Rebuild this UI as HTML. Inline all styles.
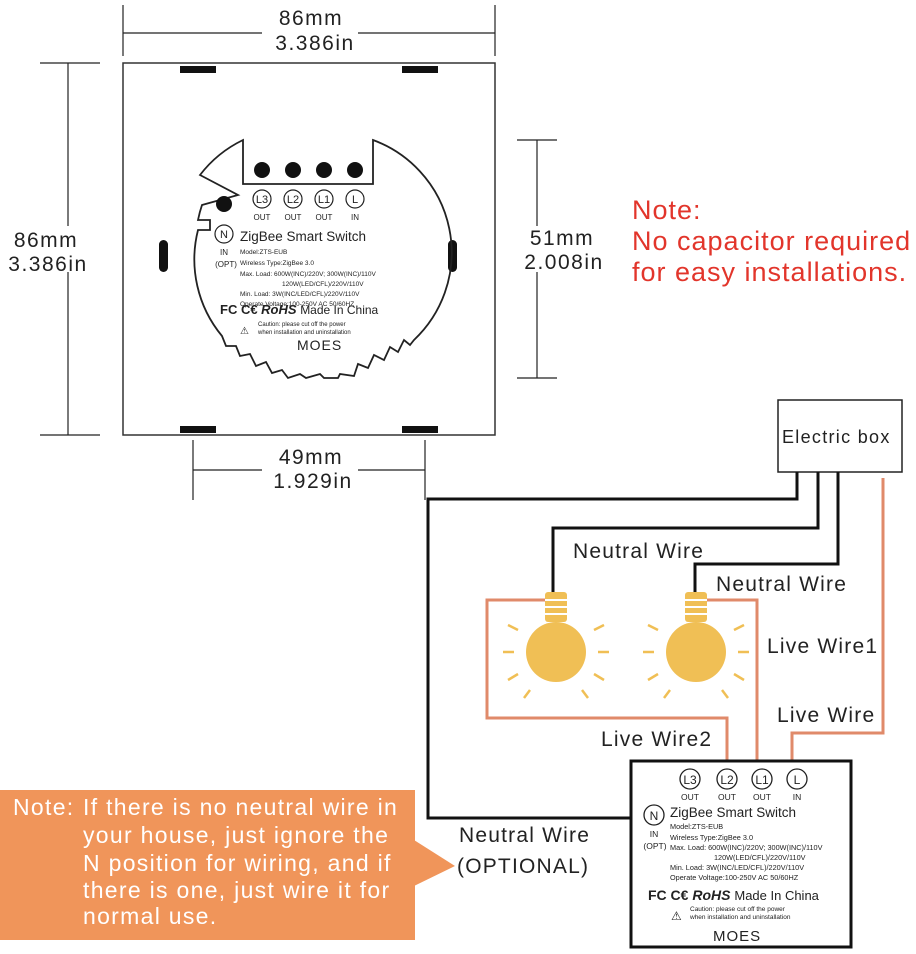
<!DOCTYPE html>
<html><head><meta charset="utf-8"><style>
body{margin:0;background:#fff;width:916px;height:954px;overflow:hidden}
svg{display:block}
text{font-family:"Liberation Sans",sans-serif}
</style></head><body>
<svg width="916" height="954" viewBox="0 0 916 954" xmlns="http://www.w3.org/2000/svg">
<rect x="123" y="63" width="372" height="372" fill="none" stroke="#333" stroke-width="1.5"/>
<rect x="180" y="66" width="36" height="7" fill="#111"/><rect x="402" y="66" width="36" height="7" fill="#111"/>
<rect x="180" y="426" width="36" height="7" fill="#111"/><rect x="402" y="426" width="36" height="7" fill="#111"/>
<rect x="159" y="240" width="9" height="32" rx="4.5" fill="#111"/><rect x="448" y="240" width="9" height="32" rx="4.5" fill="#111"/>
<g stroke="#222" stroke-width="1.2" fill="none">
<line x1="123" y1="5" x2="123" y2="56"/><line x1="495" y1="5" x2="495" y2="56"/><line x1="123" y1="33" x2="495" y2="33"/>
<line x1="40" y1="63" x2="100" y2="63"/><line x1="40" y1="435" x2="100" y2="435"/><line x1="68" y1="63" x2="68" y2="435"/>
<line x1="517" y1="140" x2="557" y2="140"/><line x1="517" y1="378" x2="557" y2="378"/><line x1="537" y1="140" x2="537" y2="378"/>
<line x1="193" y1="440" x2="193" y2="500"/><line x1="425" y1="440" x2="425" y2="500"/><line x1="193" y1="470" x2="425" y2="470"/>
</g>
<g font-size="21" fill="#222" text-anchor="middle" letter-spacing="1.5">
<rect x="262" y="6" width="96" height="48" fill="#fff"/>
<text x="311" y="25">86mm</text><text x="315" y="50">3.386in</text>
<rect x="1" y="226" width="92" height="46" fill="#fff"/>
<text x="46" y="247">86mm</text><text x="48" y="271">3.386in</text>
<rect x="516" y="226" width="90" height="46" fill="#fff"/>
<text x="562" y="245">51mm</text><text x="564" y="269">2.008in</text>
<rect x="262" y="447" width="96" height="46" fill="#fff"/>
<text x="311" y="464">49mm</text><text x="313" y="488">1.929in</text>
</g>
<path d="M243 140 L243 184 L373 184 L373 140 A120 120 0 0 1 414 340 L410 345 L404 340 L398 352 L390 347 L384 360 L374 355 L368 368 L358 364 L354 376 L340 374 L338 378 L324 378 L320 374 L306 378 L300 374 L288 378 L282 370 L272 373 L266 362 L256 366 L250 354 L240 356 L236 346 L226 346 L222 336 A120 120 0 0 1 198 230 L210 230 L210 220 L198 220 A120 120 0 0 1 202 205 L238 195 L200 175 A120 120 0 0 1 243 140 Z" fill="none" stroke="#222" stroke-width="1.8"/>
<g fill="#111"><circle cx="262" cy="170" r="8"/><circle cx="293" cy="170" r="8"/><circle cx="324" cy="170" r="8"/><circle cx="355" cy="170" r="8"/><circle cx="224" cy="204" r="8"/></g>
<g fill="none" stroke="#222" stroke-width="1.2"><circle cx="262" cy="199" r="9"/><circle cx="293" cy="199" r="9"/><circle cx="324" cy="199" r="9"/><circle cx="355" cy="199" r="9"/><circle cx="224" cy="234" r="9"/></g>
<g font-size="11" fill="#222" text-anchor="middle"><text x="262" y="203">L3</text><text x="293" y="203">L2</text><text x="324" y="203">L1</text><text x="355" y="203">L</text><text x="224" y="238">N</text>
<g font-size="8"><text x="262" y="220">OUT</text><text x="293" y="220">OUT</text><text x="324" y="220">OUT</text><text x="355" y="220">IN</text><text x="224" y="255">IN</text><text x="226" y="267">(OPT)</text></g></g>
<g fill="#222"><text x="240" y="241" font-size="13.5">ZigBee Smart Switch</text>
<g font-size="6.5"><text x="240" y="254">Model:ZTS-EUB</text><text x="240" y="265">Wireless Type:ZigBee 3.0</text><text x="240" y="276">Max. Load: 600W(INC)/220V; 300W(INC)/110V</text><text x="282" y="286">120W(LED/CFL)/220V/110V</text><text x="240" y="296">Min. Load: 3W(INC/LED/CFL)/220V/110V</text><text x="240" y="306">Operate Voltage:100-250V AC 50/60HZ</text></g>
<text x="220" y="314" font-size="13" font-weight="bold">FC C€ <tspan font-style="italic">RoHS</tspan> <tspan font-weight="normal" font-size="12">Made In China</tspan></text>
<text x="258" y="326" font-size="6">Caution: please cut off the power</text><text x="258" y="334" font-size="6">when installation and uninstallation</text>
<text x="240" y="334" font-size="10">⚠</text>
<text x="297" y="350" font-size="14" letter-spacing="1">MOES</text></g>
<g fill="#e2352b" font-size="27" letter-spacing="1"><text x="632" y="219">Note:</text><text x="632" y="250">No capacitor required</text><text x="632" y="281">for easy installations.</text></g>
<rect x="778" y="400" width="124" height="72" fill="#fff" stroke="#222" stroke-width="1.5"/>
<text x="782" y="443" font-size="18" letter-spacing="1.3" fill="#222">Electric box</text>
<g fill="none" stroke="#111" stroke-width="3">
<polyline points="797,472 797,499 428,499 428,818 644,818"/>
<polyline points="818,472 818,528 553,528 553,592"/>
<polyline points="838,472 838,564 695,564 695,594"/>
</g>
<g fill="none" stroke="#e08a6a" stroke-width="3">
<polyline points="883,478 883,733 792,733 792,770"/>
<polyline points="547,600 487,600 487,718 727,718 727,770"/>
<polyline points="705,600 757,600 757,770"/>
</g>
<g id="b1">
<circle cx="556" cy="652" r="30" fill="#f0bf55"/>
<rect x="545" y="592" width="22" height="30" rx="3" fill="#f0bf55"/>
<g stroke="#fff" stroke-width="2"><line x1="545" y1="600" x2="567" y2="600"/><line x1="545" y1="607" x2="567" y2="607"/><line x1="545" y1="614" x2="567" y2="614"/></g>
<g stroke="#f0bf55" stroke-width="2.5"><line x1="518" y1="630" x2="508" y2="625"/><line x1="514" y1="652" x2="503" y2="652"/><line x1="518" y1="674" x2="508" y2="680"/><line x1="594" y1="630" x2="604" y2="625"/><line x1="598" y1="652" x2="609" y2="652"/><line x1="594" y1="674" x2="604" y2="680"/><line x1="530" y1="690" x2="524" y2="698"/><line x1="582" y1="690" x2="588" y2="698"/></g>
</g>
<use href="#b1" transform="translate(140,0)"/>
<g fill="#222" font-size="21" letter-spacing="1.2">
<text x="573" y="558">Neutral Wire</text><text x="716" y="591">Neutral Wire</text><text x="767" y="653">Live Wire1</text><text x="777" y="722">Live Wire</text><text x="601" y="746">Live Wire2</text><text x="459" y="842">Neutral Wire</text><text x="457" y="873">(OPTIONAL)</text>
</g>
<rect x="631" y="761" width="220" height="186" fill="#fff" stroke="#111" stroke-width="3"/>
<g fill="#fff" stroke="#222" stroke-width="1.3"><circle cx="690" cy="779" r="10"/><circle cx="727" cy="779" r="10"/><circle cx="762" cy="779" r="10"/><circle cx="797" cy="779" r="10"/><circle cx="654" cy="815" r="10"/></g>
<g font-size="12" fill="#222" text-anchor="middle"><text x="690" y="784">L3</text><text x="727" y="784">L2</text><text x="762" y="784">L1</text><text x="797" y="784">L</text><text x="654" y="820">N</text>
<g font-size="8.5"><text x="690" y="800">OUT</text><text x="727" y="800">OUT</text><text x="762" y="800">OUT</text><text x="797" y="800">IN</text><text x="654" y="837">IN</text><text x="655" y="849">(OPT)</text></g></g>
<g fill="#222"><text x="670" y="817" font-size="13.5">ZigBee Smart Switch</text>
<g font-size="7.3"><text x="670" y="829">Model:ZTS-EUB</text><text x="670" y="840">Wireless Type:ZigBee 3.0</text><text x="670" y="850">Max. Load: 600W(INC)/220V; 300W(INC)/110V</text><text x="714" y="860">120W(LED/CFL)/220V/110V</text><text x="670" y="870">Min. Load: 3W(INC/LED/CFL)/220V/110V</text><text x="670" y="880">Operate Voltage:100-250V AC 50/60HZ</text></g>
<text x="648" y="900" font-size="14" font-weight="bold">FC C€ <tspan font-style="italic">RoHS</tspan> <tspan font-weight="normal" font-size="13">Made In China</tspan></text>
<text x="690" y="911" font-size="6.5">Caution: please cut off the power</text><text x="690" y="919" font-size="6.5">when installation and uninstallation</text>
<text x="671" y="920" font-size="12">⚠</text>
<text x="713" y="941" font-size="15" letter-spacing="1">MOES</text></g>
<rect x="0" y="790" width="415" height="150" fill="#f0955a"/>
<polygon points="414,840 455,866 414,886" fill="#f0955a"/>
<g fill="#fff" font-size="23" letter-spacing="1.3"><text x="13" y="815">Note:</text><text x="83" y="815">If there is no neutral wire in</text><text x="83" y="843">your house, just ignore the</text><text x="83" y="871">N position for wiring, and if</text><text x="83" y="898">there is one, just wire it for</text><text x="83" y="924">normal use.</text></g>
</svg>
</body></html>
